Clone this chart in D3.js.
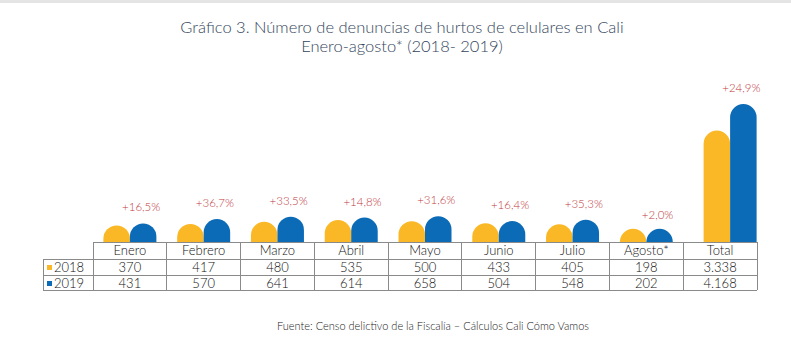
<!DOCTYPE html>
<html><head><meta charset="utf-8">
<script src="https://cdn.jsdelivr.net/npm/d3@7"></script>
<style>body{margin:0;background:#fff}svg{display:block}</style>
</head><body>
<script>
const categories = ["Enero","Febrero","Marzo","Abril","Mayo","Junio","Julio","Agosto*","Total"];
const series2018 = [370,417,480,535,500,433,405,198,3338];
const series2019 = [431,570,641,614,658,504,548,202,4168];
const labels2018 = ["370","417","480","535","500","433","405","198","3.338"];
const labels2019 = ["431","570","641","614","658","504","548","202","4.168"];
const changes = ["+16,5%","+36,7%","+33,5%","+14,8%","+31,6%","+16,4%","+35,3%","+2,0%","+24,9%"];
const seriesNames = ["2018","2019"];

const W=791,H=356;
const cOrange="#fbb826", cBlue="#0b6bb6", cRed="#c03a42", cGrid="#8a8a8a", cText="#111";
const FONT="Lato, 'Open Sans', sans-serif";
const svg=d3.select("body").append("svg").attr("width",W).attr("height",H);
svg.append("rect").attr("x",0).attr("y",0).attr("width",W).attr("height",3).attr("fill","#e4e4e4");

// title
const title=svg.append("text").attr("text-anchor","middle").attr("fill","#34455c")
  .style("font-family",FONT).style("font-weight","300").style("font-size","16.5px");
title.append("tspan").attr("x",402).attr("y",33).text("Gráfico 3. Número de denuncias de hurtos de celulares en Cali");
title.append("tspan").attr("x",402).attr("y",52).text("Enero-agosto* (2018- 2019)");

const tableLeft=93, tableRight=757, legendLeft=43;
const x=d3.scaleBand().domain(categories).range([tableLeft,tableRight]).padding(0);
const y=d3.scaleLinear().domain([-150,4168]).range([242,104]);
const barW=26.5;
const offset = c => c==="Total"?10:0;
const center = c => x(c)+x.bandwidth()/2+offset(c);

function capBar(x0,w,top,bottom){
  const r=w/2;
  if(bottom-top<r) top=bottom-r;
  return `M${x0},${bottom}V${top+r}A${r},${r} 0 0 1 ${x0+w},${top+r}V${bottom}Z`;
}
const g=svg.append("g");
g.selectAll("path.b18").data(categories).join("path").attr("class","b18")
  .attr("fill",cOrange)
  .attr("d",(c,i)=>capBar(center(c)-barW,barW,y(series2018[i]),y(-150)));
g.selectAll("path.b19").data(categories).join("path").attr("class","b19")
  .attr("fill",cBlue)
  .attr("d",(c,i)=>capBar(center(c),barW,y(series2019[i]),y(-150)));
g.selectAll("text.pct").data(categories).join("text").attr("class","pct")
  .attr("x",c=>center(c)+barW/2-2).attr("y",(c,i)=>y(series2019[i])-12)
  .attr("text-anchor","middle").attr("fill",cRed)
  .style("font-family",FONT).style("font-weight","300").style("font-size","11.5px")
  .text((c,i)=>changes[i]);

// table
const rows=[242,259,275,290];
const t=svg.append("g").attr("stroke",cGrid).attr("stroke-width",1).attr("shape-rendering","crispEdges");
t.append("line").attr("x1",tableLeft).attr("x2",tableRight).attr("y1",rows[0]).attr("y2",rows[0]);
[1,2,3].forEach(k=>t.append("line").attr("x1",legendLeft).attr("x2",tableRight).attr("y1",rows[k]).attr("y2",rows[k]));
t.append("line").attr("x1",legendLeft).attr("x2",legendLeft).attr("y1",rows[1]).attr("y2",rows[3]);
categories.forEach(c=>t.append("line").attr("x1",x(c)).attr("x2",x(c)).attr("y1",rows[0]).attr("y2",rows[3]));
t.append("line").attr("x1",tableRight).attr("x2",tableRight).attr("y1",rows[0]).attr("y2",rows[3]);

const tt=svg.append("g").style("font-family",FONT).style("font-weight","300").style("font-size","13px").attr("fill",cText).attr("text-anchor","middle");
tt.selectAll("text.h").data(categories).join("text").attr("class","h")
  .attr("x",c=>x(c)+x.bandwidth()/2).attr("y",255).text(c=>c);
tt.selectAll("text.r1").data(categories).join("text").attr("class","r1")
  .attr("x",c=>x(c)+x.bandwidth()/2).attr("y",272).text((c,i)=>labels2018[i]);
tt.selectAll("text.r2").data(categories).join("text").attr("class","r2")
  .attr("x",c=>x(c)+x.bandwidth()/2).attr("y",288).text((c,i)=>labels2019[i]);
[[cOrange,272],[cBlue,288]].forEach(([col,yy],k)=>{
  svg.append("rect").attr("x",47).attr("y",yy-7).attr("width",5).attr("height",5).attr("fill",col);
  svg.append("text").attr("x",54).attr("y",yy).attr("fill",cText)
    .style("font-family",FONT).style("font-weight","300").style("font-size","13px").text(seriesNames[k]);
});

svg.append("text").attr("x",433).attr("y",330).attr("text-anchor","middle").attr("fill","#222")
  .style("font-family",FONT).style("font-weight","300").style("font-size","11px")
  .text("Fuente: Censo delictivo de la Fiscalía – Cálculos Cali Cómo Vamos");
</script>
</body></html>
